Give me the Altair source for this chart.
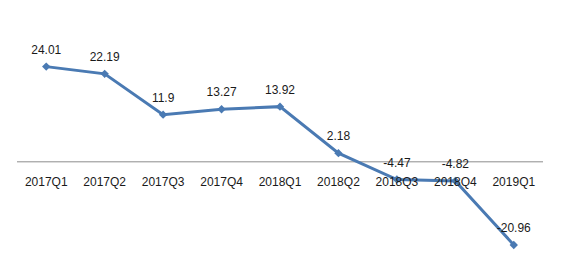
import altair as alt
import pandas as pd

quarters = ["2017Q1", "2017Q2", "2017Q3", "2017Q4", "2018Q1",
            "2018Q2", "2018Q3", "2018Q4", "2019Q1"]
values = [24.01, 22.19, 11.9, 13.27, 13.92, 2.18, -4.47, -4.82, -20.96]
labels = ["24.01", "22.19", "11.9", "13.27", "13.92", "2.18", "-4.47", "-4.82", "-20.96"]

df = pd.DataFrame({"q": quarters, "v": values, "lab": labels, "z": [0] * len(quarters)})

FONT = "Liberation Sans"
COLOR = "#4a7ab3"

x = alt.X("q:O", sort=quarters, axis=None, scale=alt.Scale(padding=0.5))
yscale = alt.Scale(domain=[-24, 34], nice=False, zero=False)

base = alt.Chart(df)

zero_rule = alt.Chart(pd.DataFrame({"z": [0]})).mark_rule(color="#8c8c8c", strokeWidth=1).encode(
    y=alt.Y("z:Q", scale=yscale, axis=None)
)

cat_labels = base.mark_text(font=FONT, fontSize=12, color="#1a1a1a", dy=20).encode(
    x=x, y=alt.Y("z:Q", scale=yscale, axis=None), text="q:N"
)

line = base.mark_line(color=COLOR, strokeWidth=3).encode(
    x=x, y=alt.Y("v:Q", scale=yscale, axis=None)
)

points = base.mark_point(shape="diamond", filled=True, size=70, color=COLOR, opacity=1).encode(
    x=x, y=alt.Y("v:Q", scale=yscale, axis=None)
)

val_labels = base.mark_text(font=FONT, fontSize=12, color="#1a1a1a", dy=-17).encode(
    x=x, y=alt.Y("v:Q", scale=yscale, axis=None), text="lab:N"
)

chart = alt.layer(zero_rule, line, points, cat_labels, val_labels).properties(
    width=526, height=230,
    autosize=alt.AutoSizeParams(type="none"),
    padding={"left": 17, "top": 27, "right": 32, "bottom": 15},
    background="white",
).configure_view(stroke=None)

chart.save("out.html", embed_options={"renderer": "svg", "actions": False})
